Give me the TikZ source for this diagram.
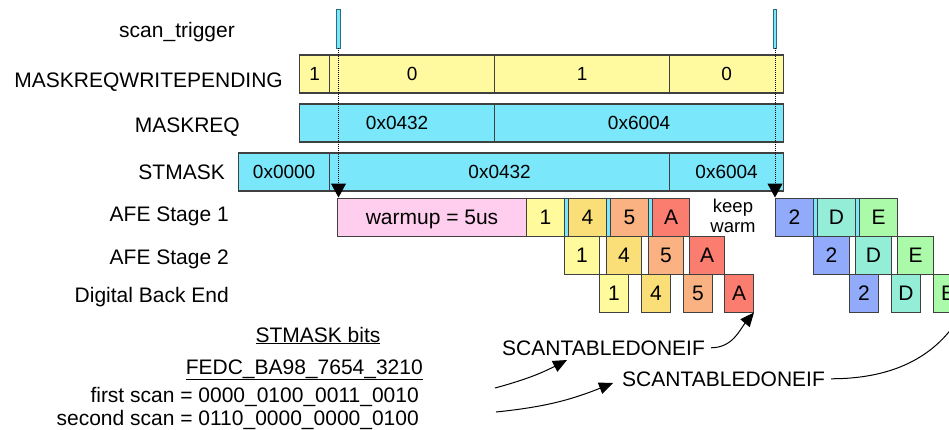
\documentclass[tikz,border=0pt]{standalone}
\usepackage{fontspec}
\setmainfont{Liberation Sans}
\usepackage{tikz}
\usetikzlibrary{arrows.meta,calc}
\usepackage{xcolor}
\definecolor{BarYellow}{RGB}{255,250,160}
\definecolor{BarCyan}{RGB}{122,232,250}
\definecolor{WarmPink}{RGB}{255,206,238}
\definecolor{StYellow}{RGB}{255,250,155}
\definecolor{StGold}{RGB}{250,222,120}
\definecolor{StPeach}{RGB}{250,178,130}
\definecolor{StRed}{RGB}{250,125,112}
\definecolor{StBlue}{RGB}{145,170,250}
\definecolor{StAqua}{RGB}{148,238,215}
\definecolor{StGreen}{RGB}{170,250,170}
\definecolor{Edge}{RGB}{64,64,64}
\definecolor{PulseEdge}{RGB}{40,110,130}

\begin{document}
\begin{tikzpicture}[x=1pt,y=-1pt,
  lbl/.style={anchor=base east,inner sep=0pt,font=\fontsize{21}{25}\selectfont},
  note/.style={inner sep=0pt,font=\fontsize{21}{25}\selectfont},
  bar/.style={draw=Edge,line width=1.2pt,minimum height=38pt,inner sep=0pt,anchor=west,
              text height=13.6pt,text depth=0pt,font=\fontsize{19}{22}\selectfont},
  pend/.style={bar,fill=BarYellow},
  mreg/.style={bar,fill=BarCyan},
  cell/.style={draw=Edge,line width=1pt,minimum height=38pt,inner sep=0pt,anchor=west,
               text height=15pt,text depth=0pt,font=\fontsize{21}{25}\selectfont},
  strip/.style={cell,fill=BarCyan,minimum width=4pt},
  pulse/.style={draw=PulseEdge,fill=BarCyan,line width=0.8pt,
                minimum width=3.5pt,minimum height=39pt,inner sep=0pt},
  trig/.style={densely dotted,line width=1pt,-{Triangle[length=14pt,width=15pt]}},
  done/.style={line width=1pt,-{Triangle[length=14pt,width=12pt]}},
]
\useasboundingbox (0,0) rectangle (949,429);

% row labels
\node[lbl] (ltrig) at (235,37) {scan\_trigger};
\node[lbl] (lwp) at (283,87) {MASKREQWRITEPENDING};
\node[lbl] (lmq) at (240,132) {MASKREQ};
\node[lbl] (lsm) at (225,179) {STMASK};
\node[lbl] (ls1) at (229,221) {AFE Stage 1};
\node[lbl] (ls2) at (229,264) {AFE Stage 2};
\node[lbl] (ldb) at (229,302) {Digital Back End};

% registers
\node[pend,minimum width=30pt] (wp1) at (299,74) {1};
\node[pend,minimum width=165pt] (wp2) at (329,74) {0};
\node[pend,minimum width=175pt] (wp3) at (494,74) {1};
\node[pend,minimum width=114pt] (wp4) at (669,74) {0};
\node[mreg,minimum width=195pt] (mq1) at (299,123) {0x0432};
\node[mreg,minimum width=289pt] (mq2) at (494,123) {0x6004};
\node[mreg,minimum width=91pt] (sm1) at (238,172) {0x0000};
\node[mreg,minimum width=340pt] (sm2) at (329,172) {0x0432};
\node[mreg,minimum width=114pt] (sm3) at (669,172) {0x6004};

% AFE stage 1
\node[cell,fill=WarmPink,minimum width=189pt] (warm) at (337,217) {warmup = 5us};
\node[cell,fill=StYellow,minimum width=38pt] (s1one) at (526,217) {1};
\node[strip] (g1) at (564,217) {};
\node[cell,fill=StGold,minimum width=38pt] (s1four) at (568,217) {4};
\node[strip] (g2) at (606,217) {};
\node[cell,fill=StPeach,minimum width=38pt] (s1five) at (610,217) {5};
\node[strip] (g3) at (648,217) {};
\node[cell,fill=StRed,minimum width=37pt] (s1a) at (652,217) {A};
\node[align=center,inner sep=0pt,font=\fontsize{18.5}{20}\selectfont] (keep) at (733,216) {keep\\warm};
\node[cell,fill=StBlue,minimum width=38pt] (s1two) at (775,217) {2};
\node[strip] (g4) at (813,217) {};
\node[cell,fill=StAqua,minimum width=38pt] (s1d) at (817,217) {D};
\node[strip] (g5) at (855,217) {};
\node[cell,fill=StGreen,minimum width=38pt] (s1e) at (859,217) {E};

% AFE stage 2
\node[cell,fill=StYellow,minimum width=35pt] (s2one) at (564,255) {1};
\node[cell,fill=StGold,minimum width=35pt] (s2four) at (606,255) {4};
\node[cell,fill=StPeach,minimum width=35pt] (s2five) at (648,255) {5};
\node[cell,fill=StRed,minimum width=35pt] (s2a) at (689,255) {A};
\node[cell,fill=StBlue,minimum width=36pt] (s2two) at (813,255) {2};
\node[cell,fill=StAqua,minimum width=36pt] (s2d) at (855,255) {D};
\node[cell,fill=StGreen,minimum width=36pt] (s2e) at (897,255) {E};

% digital back end
\node[cell,fill=StYellow,minimum width=29pt] (dbone) at (599,293) {1};
\node[cell,fill=StGold,minimum width=29pt] (dbfour) at (641,293) {4};
\node[cell,fill=StPeach,minimum width=29pt] (dbfive) at (683,293) {5};
\node[cell,fill=StRed,minimum width=29pt] (dba) at (724,293) {A};
\node[cell,fill=StBlue,minimum width=29pt] (dbtwo) at (849,293) {2};
\node[cell,fill=StAqua,minimum width=29pt] (dbd) at (891,293) {D};
\node[cell,fill=StGreen,minimum width=29pt] (dbe) at (933,293) {E};

% trigger pulses
\node[pulse] (trig1) at (338.5,28.5) {};
\node[pulse] (trig2) at (775,28.5) {};
\draw[trig] (trig1.south) -- (trig1.south |- warm.north);
\draw[trig] (trig2.south) -- (trig2.south |- s1two.north);

% mask bits
\node[note,anchor=base] (bits) at (318,342) {\underline{STMASK bits}};
\node[note,anchor=base east] (hdr) at (423,374) {\underline{FEDC\_BA98\_7654\_3210}};
\node[note,anchor=base east] (scan1) at (419,402) {first scan = 0000\_0100\_0011\_0010};
\node[note,anchor=base east] (scan2) at (419,425) {second scan = 0110\_0000\_0000\_0100};

% interrupts
\node[note,anchor=base west] (done1) at (502,355) {SCANTABLEDONEIF};
\node[note,anchor=base west] (done2) at (622,386) {SCANTABLEDONEIF};
\draw[done] ([xshift=6pt]done1.east) to[out=0,in=-130] (dba.south east);
\draw[done] ([xshift=6pt]done2.east) to[out=0,in=-125] (dbe.south east);
\coordinate (f1) at (495,388);
\coordinate (t1) at (567,360);
\coordinate (f2) at (496,412);
\coordinate (t2) at (613,383);
\draw[done] (f1) to[bend right=6] (t1);
\draw[done] (f2) to[bend right=8] (t2);
\end{tikzpicture}
\end{document}
